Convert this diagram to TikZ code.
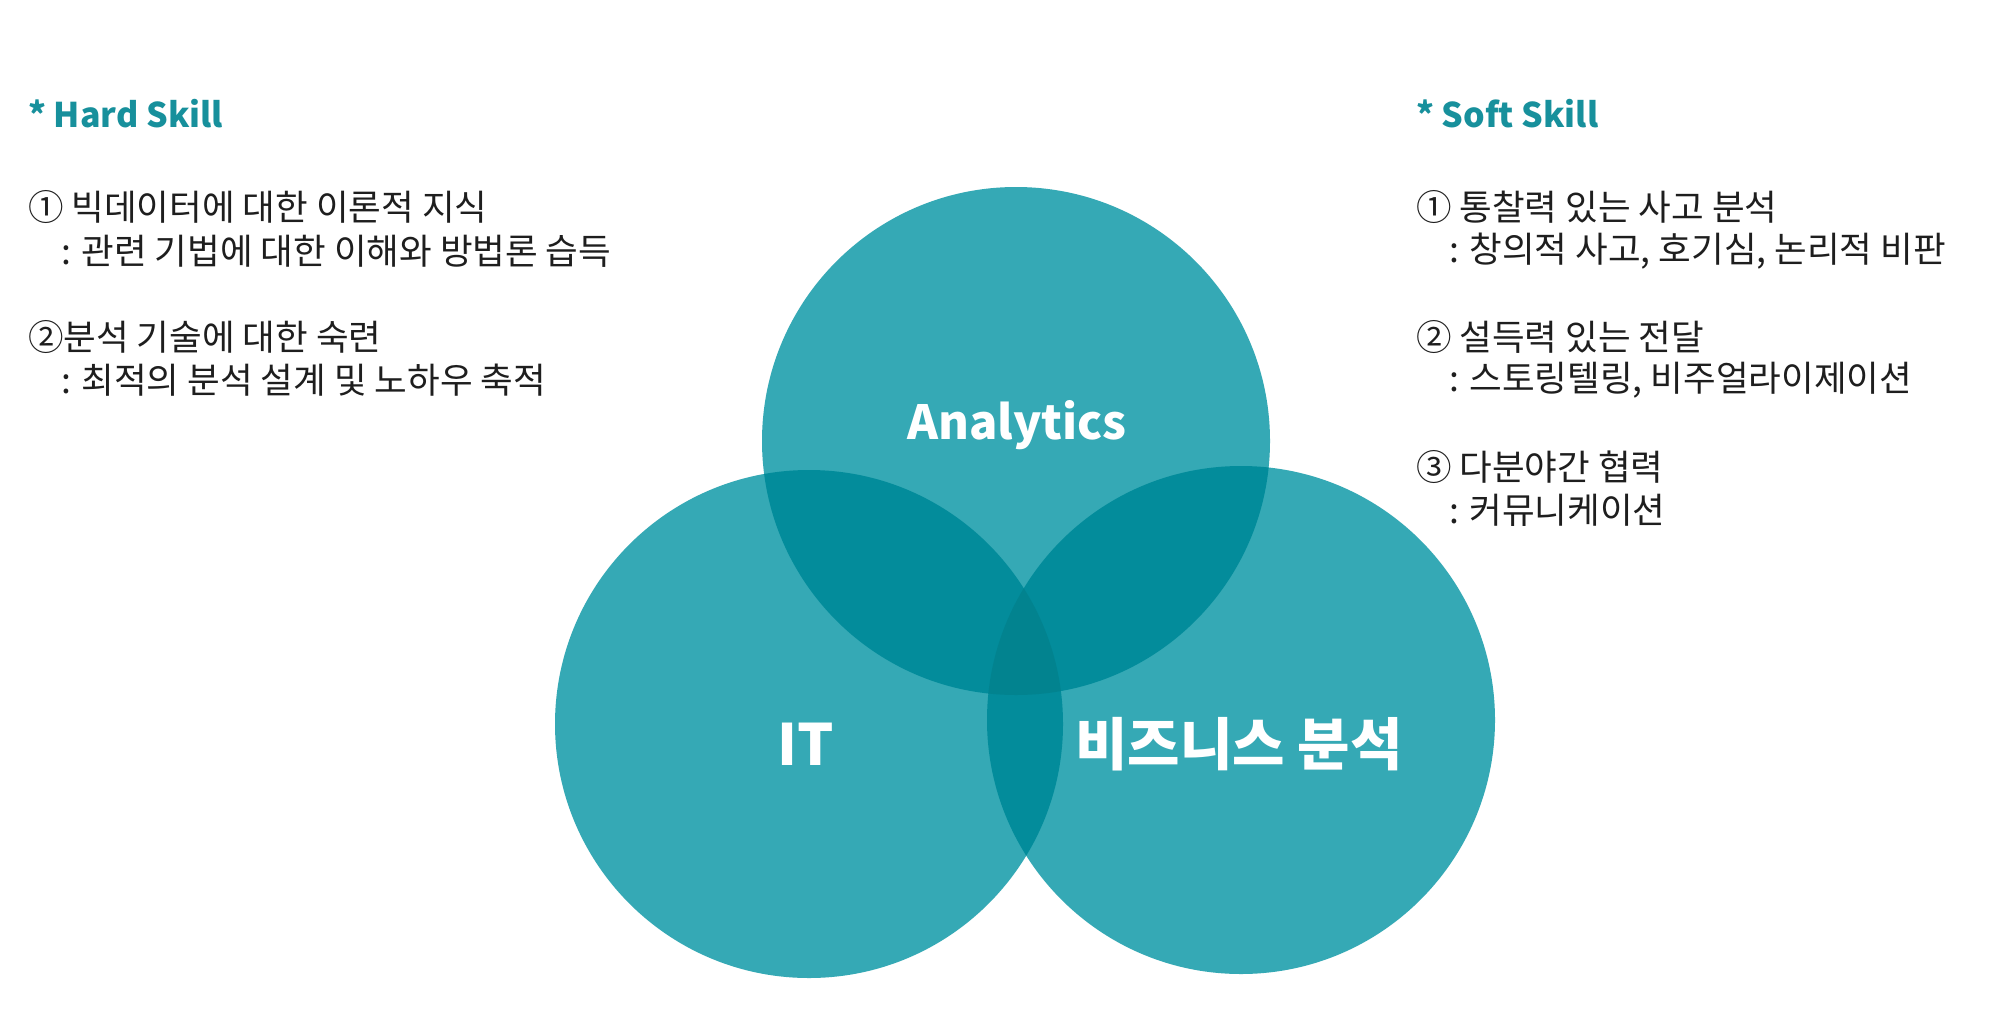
\documentclass[tikz,border=0pt]{standalone}
\usepackage{fontspec}
\setmainfont{Noto Sans CJK KR}
\definecolor{tealone}{HTML}{35A9B5}
\definecolor{tealtwo}{HTML}{038C9B}
\definecolor{tealthree}{HTML}{02838F}
\definecolor{headteal}{HTML}{17909C}
\definecolor{bodytext}{HTML}{1E1E1E}
\tikzset{
  heading/.style={anchor=west, inner sep=0pt, text=headteal, font=\fontsize{34}{40}\selectfont\bfseries},
  body/.style={anchor=west, inner sep=0pt, text=bodytext, font=\fontsize{35.5}{42}\selectfont},
  circlabel/.style={inner sep=0pt, text=white, font=\fontsize{57}{64}\selectfont\bfseries},
}
\begin{document}
\begin{tikzpicture}[x=1pt,y=-1pt]
\useasboundingbox[fill=white] (0,0) rectangle (2000,1012);
\coordinate (cA) at (1016,441);
\coordinate (cI) at (809,724);
\coordinate (cB) at (1241,720);
% single circles
\fill[tealone] (cA) circle (254pt);
\fill[tealone] (cI) circle (254pt);
\fill[tealone] (cB) circle (254pt);
% pairwise overlaps
\begin{scope}
  \clip (cA) circle (254pt);
  \fill[tealtwo] (cI) circle (254pt);
  \fill[tealtwo] (cB) circle (254pt);
\end{scope}
\begin{scope}
  \clip (cI) circle (254pt);
  \fill[tealtwo] (cB) circle (254pt);
\end{scope}
% triple overlap
\begin{scope}
  \clip (cA) circle (254pt);
  \clip (cI) circle (254pt);
  \fill[tealthree] (cB) circle (254pt);
\end{scope}
% circle labels
\node[circlabel, font=\fontsize{47}{54}\selectfont\bfseries] (lA) at (1017,425) {Analytics};
\node[circlabel] (lI) at (806,744) {IT};
\node[circlabel] (lB) at (1239,744) {비즈니스 분석};
% hard skill
\node[heading] (hh) at (28,114) {* Hard Skill};
\node[body] (h1) at (28,207) {① 빅데이터에 대한 이론적 지식};
\node[body] (h1b) at (61,251) {: 관련 기법에 대한 이해와 방법론 습득};
\node[body] (h2) at (28,337) {②분석 기술에 대한 숙련};
\node[body] (h2b) at (61,380) {: 최적의 분석 설계 및 노하우 축적};
% soft skill
\node[heading] (sh) at (1416,114) {* Soft Skill};
\node[body] (s1) at (1416,207) {① 통찰력 있는 사고 분석};
\node[body] (s1b) at (1449,251) {: 창의적 사고, 호기심, 논리적 비판};
\node[body] (s2) at (1416,337) {② 설득력 있는 전달};
\node[body] (s2b) at (1449,380) {: 스토링텔링, 비주얼라이제이션};
\node[body] (s3) at (1416,467) {③ 다분야간 협력};
\node[body] (s3b) at (1449,510) {: 커뮤니케이션};
\end{tikzpicture}
\end{document}
